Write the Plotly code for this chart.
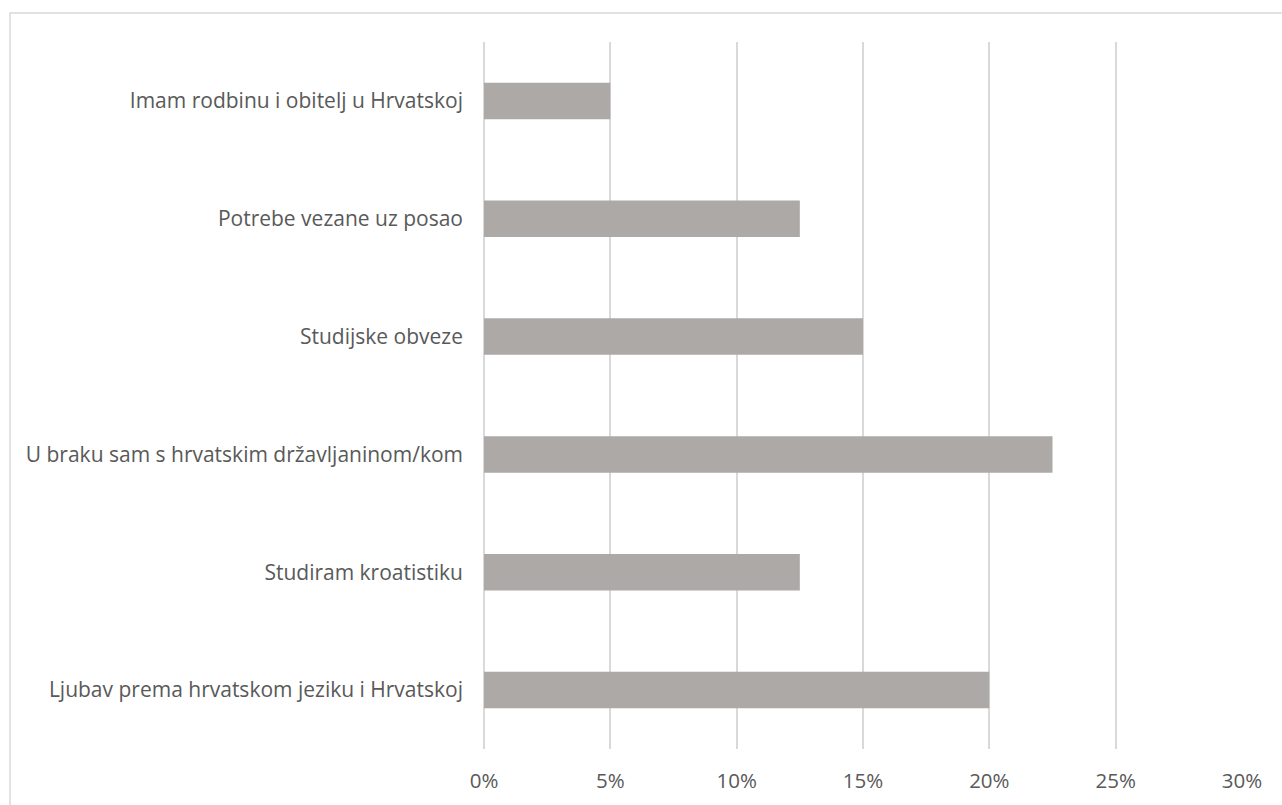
import plotly.graph_objects as go

categories = [
    "Ljubav prema hrvatskom jeziku i Hrvatskoj",
    "Studiram kroatistiku",
    "U braku sam s hrvatskim državljaninom/kom",
    "Studijske obveze",
    "Potrebe vezane uz posao",
    "Imam rodbinu i obitelj u Hrvatskoj",
]
values = [0.20, 0.125, 0.225, 0.15, 0.125, 0.05]
tick_vals = [0, 0.05, 0.10, 0.15, 0.20, 0.25, 0.30]
tick_text = ["0%", "5%", "10%", "15%", "20%", "25%", "30%"]

W, H = 1282, 805
L, R, T, B = 484, 40, 42, 56
pw, ph = W - L - R, H - T - B

fig = go.Figure(
    go.Bar(
        y=categories,
        x=values,
        orientation="h",
        marker=dict(color="#ADA9A7", line=dict(width=0)),
        width=0.31,
        hoverinfo="skip",
    )
)

font = dict(family="Open Sans", size=20.5, color="#595959")
yfont = dict(family="Open Sans", size=21, color="#595959")

fig.update_layout(
    width=W,
    height=H,
    margin=dict(l=L, r=R, t=T, b=B, pad=0),
    paper_bgcolor="white",
    plot_bgcolor="white",
    showlegend=False,
    font=font,
    xaxis=dict(
        range=[0, 0.30],
        tickvals=tick_vals,
        ticktext=tick_text,
        showgrid=True,
        gridcolor="#D9D9D9",
        gridwidth=1.5,
        zeroline=True,
        zerolinecolor="#D9D9D9",
        zerolinewidth=1.5,
        showline=False,
        ticks="",
        ticklabelstandoff=17,
        tickfont=font,
        fixedrange=True,
    ),
    yaxis=dict(
        categoryorder="array",
        categoryarray=categories,
        range=[-0.5, 5.5],
        showgrid=False,
        zeroline=False,
        showline=False,
        ticks="",
        ticklabelstandoff=20,
        tickfont=yfont,
        fixedrange=True,
    ),
    shapes=[
        dict(
            type="rect",
            xref="paper",
            yref="paper",
            x0=(10 - L) / pw,
            x1=(W + 10 - L) / pw,
            y0=-(B + 10) / ph,
            y1=(H - 13 - B) / ph,
            line=dict(color="#D9D9D9", width=1.5),
            fillcolor="rgba(0,0,0,0)",
            layer="below",
        )
    ],
)

fig.write_html("out.html")
